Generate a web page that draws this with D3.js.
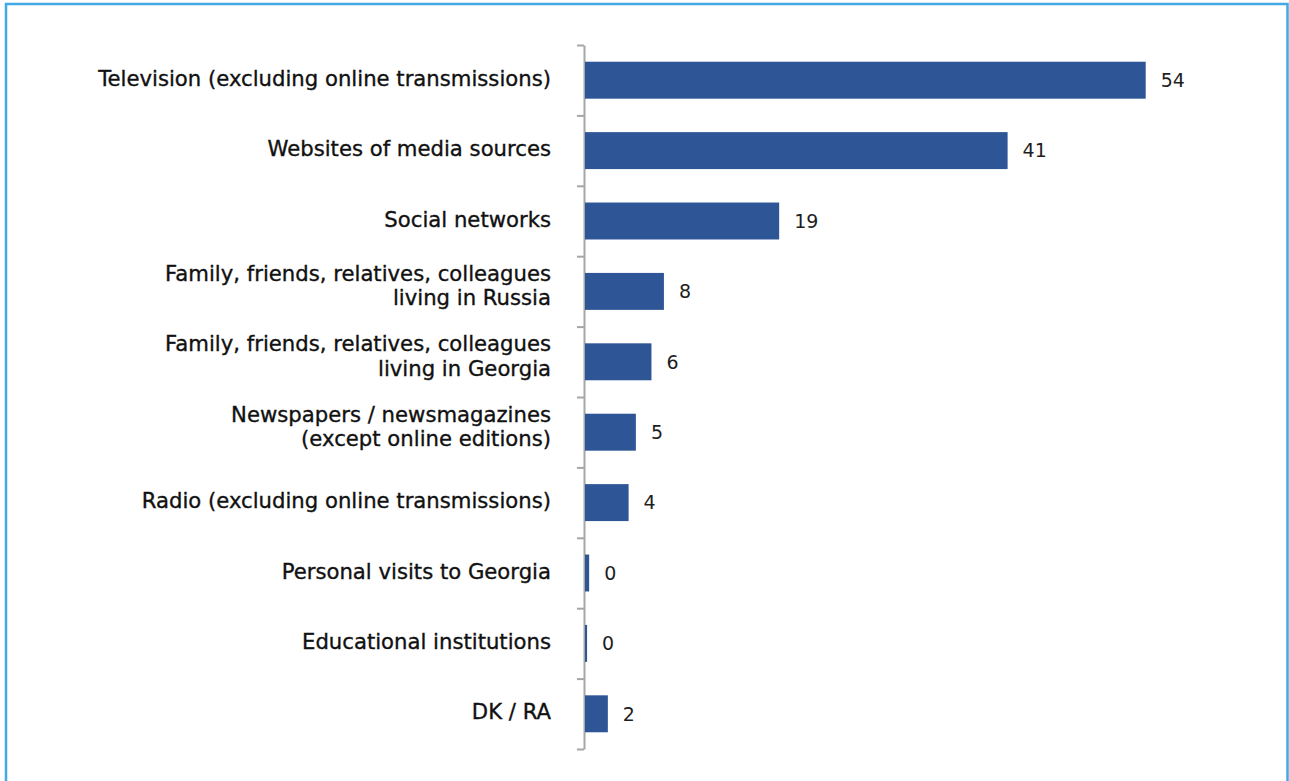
<!DOCTYPE html>
<html>
<head>
<meta charset="utf-8">
<script src="https://cdn.jsdelivr.net/npm/d3@7"></script>
<style>
  html, body { margin: 0; padding: 0; background: #fff; }
  svg { display: block; }
</style>
</head>
<body>
<svg id="chart" width="1289" height="781"></svg>
<script>
// Sources of information (share of respondents, %)
const categories = [
  ["Television (excluding online transmissions)"],
  ["Websites of media sources"],
  ["Social networks"],
  ["Family, friends, relatives, colleagues", "living in Russia"],
  ["Family, friends, relatives, colleagues", "living in Georgia"],
  ["Newspapers / newsmagazines", "(except online editions)"],
  ["Radio (excluding online transmissions)"],
  ["Personal visits to Georgia"],
  ["Educational institutions"],
  ["DK / RA"]
];
const values = [54.0, 40.7, 18.7, 7.6, 6.4, 4.9, 4.2, 0.4, 0.2, 2.2];
const xDomainMax = 60;

const svg = d3.select("#chart");
const FONT = "'DejaVu Sans', sans-serif";

// outer frame
svg.append("rect")
  .attr("x", 6).attr("y", 4)
  .attr("width", 1281.5).attr("height", 800)
  .attr("fill", "none")
  .attr("stroke", "#41a9e4")
  .attr("stroke-width", 2.5);

const plot = { left: 585, top: 45, bottom: 749 };

const x = d3.scaleLinear().domain([0, xDomainMax]).range([plot.left, plot.left + 623]);
const idx = d3.range(categories.length);
const y = d3.scaleBand().domain(idx).range([plot.top, plot.bottom]).paddingInner(0.475).paddingOuter(0.2375);
const yEdge = d3.scaleLinear().domain([0, categories.length]).range([plot.top, plot.bottom]);

// category axis with ticks between categories
const axis = svg.append("g")
  .attr("transform", `translate(${plot.left - 1},0)`)
  .call(d3.axisLeft(yEdge).tickValues(d3.range(categories.length + 1)).tickSize(7).tickSizeOuter(0).tickFormat(""));
axis.selectAll("path, line").attr("stroke", "#a6a6a6").attr("stroke-width", 2);

// bars
svg.append("g").selectAll("rect")
  .data(values)
  .join("rect")
  .attr("x", x(0))
  .attr("y", (d, i) => y(i))
  .attr("width", d => x(d) - x(0))
  .attr("height", y.bandwidth())
  .attr("fill", "#2e5596");

// value labels
svg.append("g").selectAll("text")
  .data(values)
  .join("text")
  .attr("x", d => x(d) + 15)
  .attr("y", (d, i) => y(i) + y.bandwidth() / 2)
  .attr("dy", "0.36em")
  .attr("font-family", FONT)
  .attr("font-size", 19)
  .attr("fill", "#1e1e1e")
  .text(d => d3.format(".0f")(d));

// category labels, right-aligned against the axis
const labelRight = 551;
const lineH = 24.5;
const lbl = svg.append("g")
  .attr("font-family", FONT)
  .attr("font-size", 18)
  .attr("fill", "#111")
  .attr("stroke", "#111")
  .attr("stroke-width", 0.35)
  .selectAll("text")
  .data(categories)
  .join("text")
  .attr("x", labelRight)
  .attr("y", (d, i) => y(i) + y.bandwidth() / 2 - (d.length - 1) * lineH / 2 - (d.length > 1 ? 6 : 2))
  .attr("text-anchor", "end");
lbl.selectAll("tspan")
  .data(d => d)
  .join("tspan")
  .attr("x", labelRight)
  .attr("dy", (d, j) => j === 0 ? "0.36em" : lineH)
  .text(d => d);

// size the label font so the longest line spans from x=98 to the axis gap
const widest = d3.max(lbl.nodes(), n => d3.max(Array.from(n.childNodes), c => c.getComputedTextLength()));
if (widest > 0) {
  const fs = 18 * (labelRight - 98) / widest;
  lbl.attr("font-size", fs);
}
</script>
</body>
</html>
